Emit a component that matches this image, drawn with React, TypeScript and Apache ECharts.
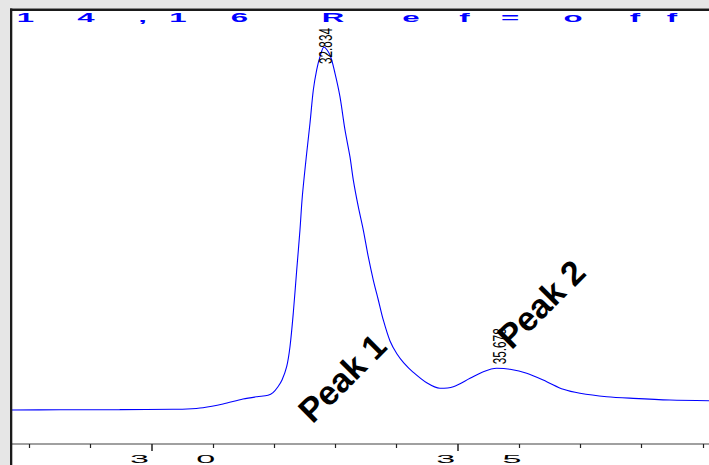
import React, { useEffect, useRef } from "react";
import * as echarts from "echarts";

// Chromatogram trace (retention time in min, signal in mAU)
const retentionTimes = [
  27.705, 28.505, 29.48, 30.35, 30.578, 30.839, 31.166, 31.492, 31.721, 31.9,
  31.982, 32.063, 32.129, 32.205, 32.259, 32.313, 32.369, 32.422, 32.46, 32.532,
  32.586, 32.64, 32.695, 32.749, 32.814, 32.912, 32.993, 33.075, 33.157, 33.238,
  33.293, 33.374, 33.456, 33.537, 33.619, 33.701, 33.782, 33.892, 34.006, 34.12,
  34.267, 34.491, 34.708, 34.925, 35.198, 35.415, 35.633, 35.851, 36.123, 36.45,
  36.721, 36.993, 37.429, 37.863, 38.462, 39.099,
];
const signal = [
  -0.8, -0.6, -0.4, 0.0, 0.3, 1.8, 6.1, 11.8, 14.5, 16.1,
  19.1, 26.0, 33.7, 49.1, 72.1, 110.9, 160.5, 206.5, 244.9, 295.3,
  329.8, 367.8, 390.9, 406.2, 417.4, 408.2, 387.4, 360.1, 321.8, 291.0,
  264.1, 233.4, 206.5, 175.8, 148.9, 125.9, 102.9, 78.7, 63.7, 53.3,
  42.9, 30.5, 24.2, 26.0, 35.7, 43.3, 47.2, 46.1, 41.5, 31.8,
  23.0, 18.4, 14.5, 12.6, 10.7, 9.9,
];

// Peak apex labels
const peakTimes = [32.834, 35.678];
const peakHeights = [417.4, 47.2];
const peakLabels = ["32.834", "35.678"];

// Free annotations (data coordinates of their centres)
const annotationTexts = ["Peak 1", "Peak 2"];
const annotationTimes = [33.108, 36.357];
const annotationLevels = [36.0, 121.3];

// Axis
const tickValues = [30, 35];
const tickLabels = ["30", "35"];
const minorTickValues = [28, 29, 31, 32, 33, 34, 36, 37, 38, 39];
const xMin = 27.705;
const xMax = 39.099;
const yMin = -40;
const yMax = 460;

// Header
const titleText = "14,16 Ref=off";
const titleCharX = [25.5, 86, 142.5, 178, 239.5, 333, 411, 464.5, 510, 573, 635, 672];

const FONT = "'Liberation Sans', Arial, Helvetica, sans-serif";

function measure(text: string, font: string): number {
  const c = document.createElement("canvas").getContext("2d");
  if (!c) return text.length * 8;
  c.font = font;
  return c.measureText(text).width;
}

export default function App() {
  const ref = useRef<HTMLDivElement>(null);

  useEffect(() => {
    document.body.style.margin = "0";
    if (!ref.current) return;
    const chart = echarts.init(ref.current, undefined, { renderer: "svg" });

    const titleChars = titleText.replace(/ /g, "").split("");
    const graphics: any[] = [
      { type: "rect", z: 100, shape: { x: 0, y: 0, width: 709, height: 8.5 }, style: { fill: "#e6e6e6" } },
      { type: "rect", z: 100, shape: { x: 0, y: 0, width: 10, height: 465 }, style: { fill: "#e6e6e6" } },
      { type: "rect", z: 101, shape: { x: 10, y: 8.5, width: 699, height: 2.5 }, style: { fill: "#1a1a1a" } },
      { type: "rect", z: 101, shape: { x: 10, y: 8.5, width: 2.3, height: 457 }, style: { fill: "#1a1a1a" } },
    ];
    titleChars.forEach((ch, i) => {
      graphics.push({
        type: "text",
        z: 102,
        x: titleCharX[i],
        y: 17.5,
        scaleX: 2.6,
        style: {
          text: ch,
          fill: "#0000ff",
          fontSize: 12,
          fontWeight: "bold",
          fontFamily: FONT,
          align: "center",
          verticalAlign: "middle",
        },
      });
    });

    const peakFontSize = 19;
    const peakSqueeze = 0.62;

    chart.setOption({
      animation: false,
      backgroundColor: "#ffffff",
      grid: { left: 11, right: 0, top: 10, bottom: 21, containLabel: false },
      xAxis: [
        {
          type: "value",
          position: "bottom",
          min: xMin,
          max: xMax,
          axisLine: { show: true, onZero: false, lineStyle: { color: "#a0a0a0", width: 2 } },
          axisTick: { show: true, customValues: tickValues, length: 7, lineStyle: { color: "#222", width: 1.5 } },
          axisLabel: { show: false },
          splitLine: { show: false },
        },
        {
          type: "value",
          position: "bottom",
          offset: 0,
          min: xMin,
          max: xMax,
          axisLine: { show: false, onZero: false },
          axisTick: { show: true, customValues: minorTickValues, length: 4, lineStyle: { color: "#222", width: 1.2 } },
          axisLabel: { show: false },
          splitLine: { show: false },
        },
      ],
      yAxis: {
        type: "value",
        min: yMin,
        max: yMax,
        show: false,
        splitLine: { show: false },
      },
      graphic: graphics,
      series: [
        {
          type: "line",
          z: 2,
          data: retentionTimes.map((t, i) => [t, signal[i]]),
          showSymbol: false,
          smooth: 0.3,
          lineStyle: { color: "#0000ff", width: 1.1 },
        },
        {
          type: "custom",
          z: 3,
          data: peakTimes.map((t, i) => [t, peakHeights[i]]),
          renderItem: (params: any, api: any) => {
            const i = params.dataIndex;
            const p = api.coord([api.value(0), api.value(1)]);
            const text = peakLabels[i];
            const len = measure(text, `${peakFontSize}px ${FONT}`) * peakSqueeze;
            const top = params.coordSys.y + 18;
            let bottom = p[1] - 4;
            if (bottom - len < top) bottom = top + len;
            return {
              type: "text",
              x: p[0],
              y: bottom,
              rotation: Math.PI / 2,
              scaleX: peakSqueeze,
              style: {
                text,
                fill: "#000",
                fontSize: peakFontSize,
                fontFamily: FONT,
                align: "left",
                verticalAlign: "middle",
              },
            };
          },
        },
        {
          type: "custom",
          z: 4,
          data: annotationTimes.map((t, i) => [t, annotationLevels[i]]),
          renderItem: (params: any, api: any) => {
            const i = params.dataIndex;
            const p = api.coord([api.value(0), api.value(1)]);
            return {
              type: "text",
              x: p[0],
              y: p[1],
              rotation: Math.PI / 4,
              style: {
                text: annotationTexts[i],
                fill: "#000",
                fontSize: 34,
                fontWeight: "bold",
                fontFamily: FONT,
                align: "center",
                verticalAlign: "middle",
              },
            };
          },
        },
        {
          type: "custom",
          z: 5,
          data: tickValues.map((t) => [t, yMin]),
          renderItem: (params: any, api: any) => {
            const i = params.dataIndex;
            const p = api.coord([api.value(0), api.value(1)]);
            return {
              type: "text",
              x: p[0] + 21,
              y: p[1] + 15.5,
              scaleX: 3.1,
              style: {
                text: tickLabels[i].split("").join("     "),
                fill: "#000",
                fontSize: 11,
                fontFamily: FONT,
                align: "center",
                verticalAlign: "middle",
              },
            };
          },
        },
      ],
    });

    return () => {
      chart.dispose();
    };
  }, []);

  return <div ref={ref} style={{ width: 709, height: 465 }} />;
}
